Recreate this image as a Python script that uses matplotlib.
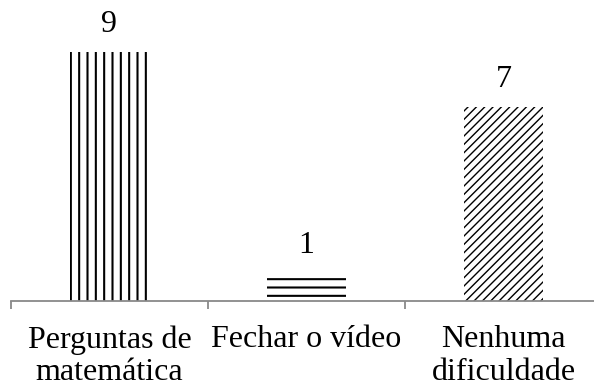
import matplotlib
matplotlib.use("Agg")
import matplotlib.pyplot as plt

# data
categories = ["Perguntas de\nmatemática", "Fechar o vídeo", "Nenhuma\ndificuldade"]
values = [9, 1, 7]
hatches = ["||", "--", "////"]
hatch_widths = [1.5, 1.5, 1.0]

plt.rcParams["font.family"] = ["Liberation Serif", "DejaVu Serif"]
plt.rcParams["hatch.linewidth"] = 1.5

fig = plt.figure(figsize=(5.94, 3.88), dpi=100)
ax = fig.add_axes([11 / 594, 87 / 388, 591 / 594, 277 / 388])

x = range(len(values))
bars = ax.bar(x, values, width=0.4, color="white", edgecolor="black", linewidth=0)
for b, h, w in zip(bars, hatches, hatch_widths):
    b.set_hatch(h)
    if hasattr(b, "set_hatch_linewidth"):
        b.set_hatch_linewidth(w)

# value labels above the bars
for b, v in zip(bars, values):
    ax.annotate(str(v), (b.get_x() + b.get_width() / 2, v), xytext=(0, 14.5),
                textcoords="offset points", ha="center", va="baseline",
                fontsize=23, annotation_clip=False)

ax.set_xlim(-0.5, len(values) - 0.5)
ax.set_ylim(0, 10)

for s in ["top", "right", "left"]:
    ax.spines[s].set_visible(False)
ax.spines["bottom"].set_color("#898989")
ax.spines["bottom"].set_linewidth(1.3)

ax.set_yticks([])
ax.set_xticks(list(x))
ax.set_xticklabels(categories, fontsize=23, linespacing=1.15)
ax.tick_params(axis="x", which="major", length=0, pad=17.5)
ax.set_xticks([i - 0.5 for i in range(len(values) + 1)], minor=True)
ax.tick_params(axis="x", which="minor", length=5.5, width=1.3, color="#898989")

fig.savefig("out.png", dpi=100)
